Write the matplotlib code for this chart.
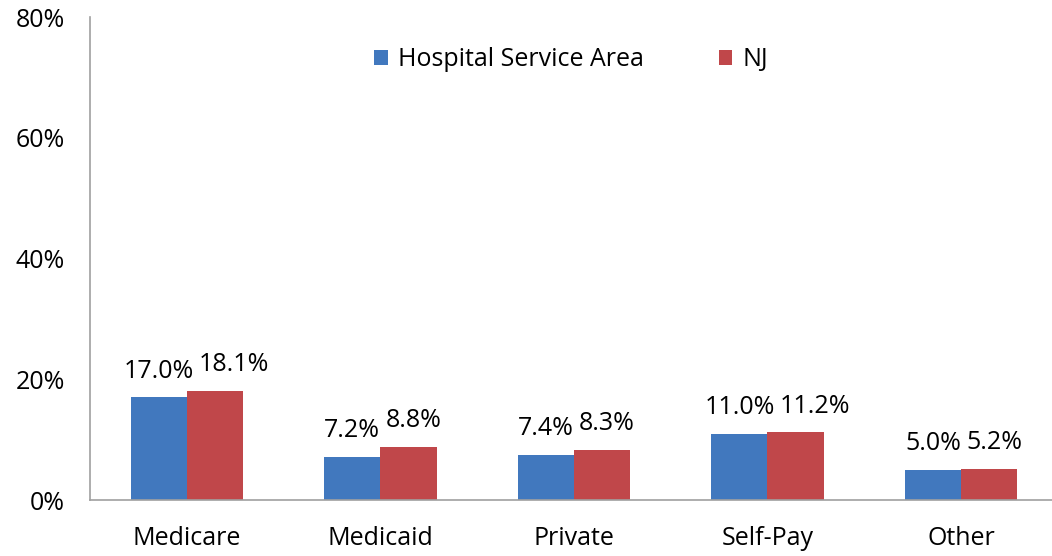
import matplotlib.pyplot as plt
import numpy as np

categories = ["Medicare", "Medicaid", "Private", "Self-Pay", "Other"]
hsa = [17.0, 7.2, 7.4, 11.0, 5.0]
nj = [18.1, 8.8, 8.3, 11.2, 5.2]
yticks = [0, 20, 40, 60, 80]

plt.rcParams['font.family'] = ['Open Sans', 'DejaVu Sans']

fig = plt.figure(figsize=(10.52, 5.56), dpi=100)
ax = fig.add_axes([0.0856, 0.1007, 0.9144, 0.8683])

x = np.arange(len(categories))
w = 0.29
b1 = ax.bar(x - w / 2, hsa, w, color='#4178BE', label='Hospital Service Area')
b2 = ax.bar(x + w / 2, nj, w, color='#C0474A', label='NJ')

ax.set_xlim(-0.5, 4.47)
ax.set_ylim(0, 80)
ax.set_yticks(yticks)
ax.set_yticklabels([f"{t}%" for t in yticks])
ax.set_xticks(x)
ax.set_xticklabels(categories)
ax.tick_params(axis='y', length=0, pad=18, labelsize=18)
ax.tick_params(axis='x', length=0, pad=19, labelsize=18)

for s in ('top', 'right'):
    ax.spines[s].set_visible(False)
for s in ('left', 'bottom'):
    ax.spines[s].set_color('#A0A0A0')
    ax.spines[s].set_linewidth(1.2)

ax.legend(loc='upper center', bbox_to_anchor=(0.5, 0.985), ncol=2, frameon=False,
          fontsize=18, handlelength=0.55, handleheight=0.55, handletextpad=0.4,
          columnspacing=3.0)

# value labels; NJ labels nudged right when they would touch the HSA label
fig.canvas.draw()
renderer = fig.canvas.get_renderer()
for rb, rr, vb, vr in zip(b1, b2, hsa, nj):
    tb = ax.annotate(f"{vb:.1f}%", (rb.get_x() + rb.get_width() / 2, vb),
                     xytext=(0, 10), textcoords='offset points',
                     ha='center', va='bottom', fontsize=18)
    tr = ax.annotate(f"{vr:.1f}%", (rr.get_x() + rr.get_width() / 2, vr),
                     xytext=(0, 10), textcoords='offset points',
                     ha='center', va='bottom', fontsize=18)
    gap = tr.get_window_extent(renderer).x0 - tb.get_window_extent(renderer).x1
    if gap < 5:
        tr.xyann = ((5 - gap) * 72 / fig.dpi, 10)

plt.savefig("out.png")
